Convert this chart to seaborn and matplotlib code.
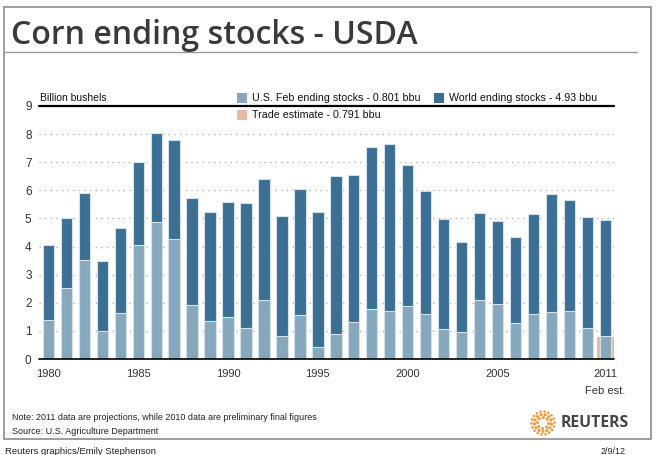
import numpy as np
import pandas as pd
import seaborn as sns
import matplotlib.pyplot as plt
from matplotlib.patches import Rectangle, Circle
from matplotlib.lines import Line2D

# Corn ending stocks, billion bushels
years = list(range(1980, 2012))
world_stocks = [4.05, 5.00, 5.90, 3.50, 4.65, 7.00, 8.05, 7.78, 5.72, 5.23,
                5.58, 5.55, 6.39, 5.09, 6.03, 5.23, 6.52, 6.55, 7.53, 7.64,
                6.89, 5.97, 4.99, 4.15, 5.18, 4.91, 4.33, 5.16, 5.87, 5.66,
                5.06, 4.93]
us_stocks = [1.39, 2.53, 3.52, 1.01, 1.65, 4.05, 4.89, 4.26, 1.92, 1.34,
             1.51, 1.09, 2.10, 0.83, 1.55, 0.42, 0.88, 1.31, 1.78, 1.71,
             1.89, 1.59, 1.08, 0.95, 2.10, 1.96, 1.29, 1.61, 1.66, 1.71,
             1.11, 0.801]
trade_year = [2011]
trade_estimate = [0.791]

tick_years = [1980, 1985, 1990, 1995, 2000, 2005, 2011]

dark_blue = '#3b6f93'
light_blue = '#87a7bc'
salmon = '#e9b8a3'
edge = '#d5e1e9'
text_col = '#333333'

W, H = 661, 455

def px(x, y):
    return x / W, 1 - y / H

sns.set_style('white')
plt.rcParams['font.family'] = ['Liberation Sans', 'DejaVu Sans']

fig = plt.figure(figsize=(W / 100, H / 100), dpi=100)
ax = fig.add_axes([38.5 / W, 1 - 359 / H, (614 - 38.5) / W, (359 - 106) / H])

df = pd.DataFrame({'year': years, 'world': world_stocks, 'us': us_stocks})

sns.barplot(x=trade_year, y=trade_estimate, native_scale=True, width=0.9,
            color=salmon, saturation=1, edgecolor=salmon, linewidth=0.8,
            errorbar=None, ax=ax)
sns.barplot(data=df, x='year', y='world', native_scale=True, width=0.63,
            color=dark_blue, saturation=1, edgecolor=edge, linewidth=0.8,
            errorbar=None, ax=ax)
sns.barplot(data=df, x='year', y='us', native_scale=True, width=0.63,
            color=light_blue, saturation=1, edgecolor=edge, linewidth=0.8,
            errorbar=None, ax=ax)

ax.set_xlim(1979.45, 2011.48)
ax.set_ylim(0, 9)
ax.set_xlabel('')
ax.set_ylabel('')
for s in ax.spines.values():
    s.set_visible(False)

ax.set_yticks(range(0, 10))
ax.set_yticklabels([str(i) for i in range(0, 10)], fontsize=8.5, color=text_col)
ax.tick_params(axis='y', length=0, pad=5)

ax.set_xticks(tick_years)
ax.set_xticklabels([str(y) for y in tick_years], fontsize=8, color=text_col)
ax.set_xticks([y + 0.5 for y in years[:-1]], minor=True)
ax.tick_params(axis='x', which='major', length=0, pad=7)
ax.tick_params(axis='x', which='minor', length=6, width=1.2, color='black',
               direction='out')

for v in range(1, 9):
    ax.axhline(v, color='#a8a8a8', lw=0.9, ls=(0, (1, 3.5)), zorder=0)
ax.axhline(9, color='black', lw=1.6, zorder=3, clip_on=False)
ax.axhline(0, color='black', lw=1.2, zorder=3, clip_on=False)

ax.text(2011, -0.97, 'Feb est.', ha='center', va='top', fontsize=8,
        color=text_col)

# frame and title
fig.patches.append(Rectangle(px(4, 439), 647 / W, 432 / H, transform=fig.transFigure,
                             fill=False, edgecolor='#8c8c8c', lw=1.2))
fig.lines.append(Line2D([px(4, 0)[0], px(637, 0)[0]], [px(0, 52)[1]] * 2,
                        transform=fig.transFigure, color='#9a9a9a', lw=1))
fig.text(*px(11, 43.5), 'Corn ending stocks - USDA', fontsize=23, fontweight=600,
         family=['Open Sans', 'DejaVu Sans'], color='#3a3a3a', va='baseline', ha='left')

fig.text(*px(40, 98), 'Billion bushels', fontsize=7.5, color='#111111', va='center')

# legend
legend_items = [(237, 98, light_blue, 'U.S. Feb ending stocks - 0.801 bbu'),
                (434, 98, dark_blue, 'World ending stocks - 4.93 bbu'),
                (237, 115, salmon, 'Trade estimate - 0.791 bbu')]
for lx, ly, col, lab in legend_items:
    fig.patches.append(Rectangle(px(lx, ly + 5), 10 / W, 10 / H,
                                 transform=fig.transFigure, color=col, lw=0))
    fig.text(*px(lx + 15, ly), lab, fontsize=7.7, color='#111111', va='center')

# footer
fig.text(*px(12, 418), 'Note: 2011 data are projections, while 2010 data are preliminary final figures',
         fontsize=6.5, color='#222222', va='center')
fig.text(*px(12, 431), 'Source: U.S. Agriculture Department', fontsize=6.5,
         color='#222222', va='center')
fig.text(*px(5, 451), 'Reuters graphics/Emily Stephenson', fontsize=6.8,
         color='#222222', va='center')
fig.text(*px(626, 451), '2/9/12', fontsize=6.5, color='#222222', va='center', ha='right')

# Reuters logo
cx, cy = 543, 423
for r, n, s in [(5.5, 8, 1.5), (8.5, 13, 1.6), (11.5, 18, 1.3)]:
    for k in range(n):
        a = 2 * np.pi * k / n + r * 0.3
        x0, y0 = px(cx + r * np.cos(a), cy + r * np.sin(a))
        fig.patches.append(Circle((x0 * W, y0 * H), s, transform=None,
                                  color='#f29a38', lw=0))
fig.text(*px(561, 423), 'REUTERS', fontsize=11.3, fontweight='bold',
         family=['Open Sans', 'DejaVu Sans'], color='#444444', va='center')

fig.savefig('out.png', dpi=100)
